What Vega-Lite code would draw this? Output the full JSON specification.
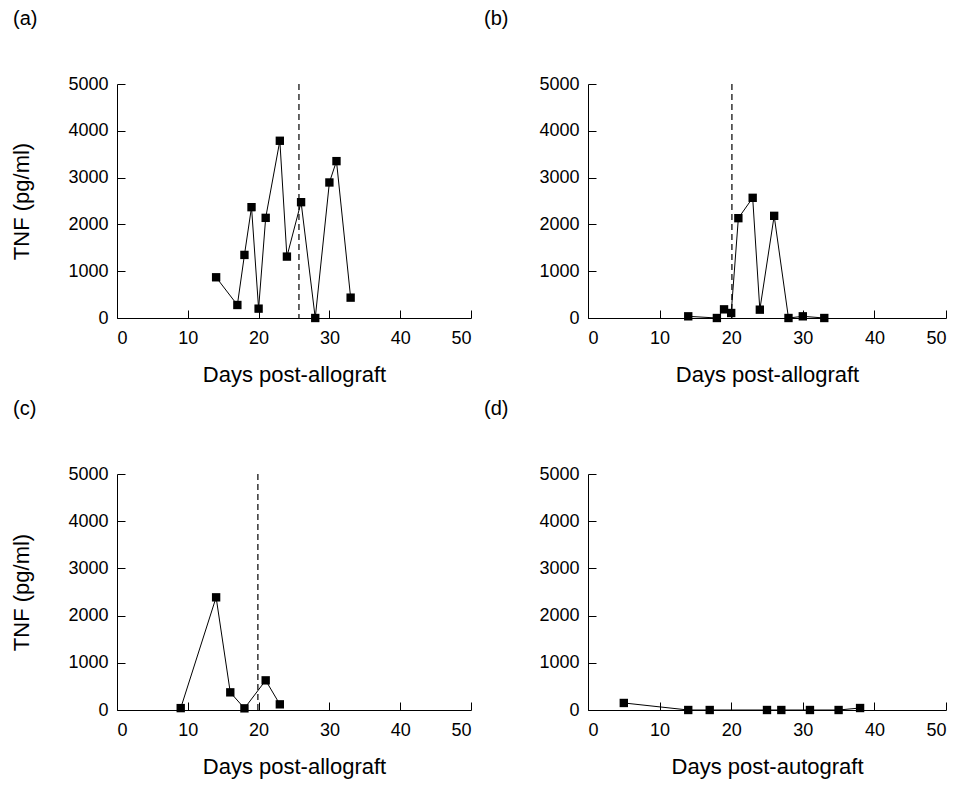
{
  "$schema": "https://vega.github.io/schema/vega-lite/v6.json",
  "background": "white",
  "padding": {"left": 10, "top": 9, "right": 5, "bottom": 5},
  "datasets": {
    "a": [{"day":14,"tnf":870},{"day":17,"tnf":278},{"day":18,"tnf":1348},{"day":19,"tnf":2368},{"day":20,"tnf":200},{"day":21,"tnf":2140},{"day":23,"tnf":3787},{"day":24,"tnf":1312},{"day":26,"tnf":2475},{"day":28,"tnf":0},{"day":30,"tnf":2896},{"day":31,"tnf":3352},{"day":33,"tnf":435}],
    "b": [{"day":14,"tnf":36},{"day":18,"tnf":0},{"day":19,"tnf":185},{"day":20,"tnf":107},{"day":21,"tnf":2133},{"day":23,"tnf":2568},{"day":24,"tnf":178},{"day":26,"tnf":2183},{"day":28,"tnf":0},{"day":30,"tnf":36},{"day":33,"tnf":0}],
    "c": [{"day":9,"tnf":40},{"day":14,"tnf":2387},{"day":16,"tnf":374},{"day":18,"tnf":35},{"day":21,"tnf":628},{"day":23,"tnf":120}],
    "d": [{"day":5,"tnf":149},{"day":14,"tnf":0},{"day":17,"tnf":0},{"day":25,"tnf":0},{"day":27,"tnf":0},{"day":31,"tnf":0},{"day":35,"tnf":0},{"day":38,"tnf":42}],
    "rejection": [{"panel":"a","day":25.7},{"panel":"b","day":20.1},{"panel":"c","day":19.9}]
  },
  "columns": 2,
  "spacing": {"row": 156, "column": 117},
  "bounds": "flush",
  "config": {
    "font": "Liberation Sans",
    "view": {"stroke": null},
    "axis": {
      "grid": false,
      "domainColor": "black",
      "domainWidth": 1,
      "tickColor": "black",
      "tickWidth": 1,
      "tickSize": -8,
      "labelColor": "black",
      "labelFontSize": 18,
      "labelFont": "Liberation Sans",
      "titleColor": "black",
      "titleFontSize": 22,
      "titleFontWeight": "normal",
      "titleFont": "Liberation Sans",
      "format": "d"
    },
    "axisX": {"labelPadding": 19, "titlePadding": 17},
    "axisY": {"labelPadding": 17, "titlePadding": 34},
    "title": {"fontSize": 20, "fontWeight": "normal", "font": "Liberation Sans", "color": "black", "anchor": "start", "frame": "group", "offset": 46, "dx": -104}
  },
  "concat": [
    {
      "title": "(a)",
      "width": 354, "height": 234,
      "layer": [
        {"data": {"name": "rejection"}, "transform": [{"filter": "datum.panel === 'a'"}], "mark": {"type": "rule", "strokeDash": [6, 4], "color": "black", "strokeWidth": 1.2}, "encoding": {"x": {"field": "day", "type": "quantitative", "scale": {"domain": [0, 50]}}}},
        {"data": {"name": "a"}, "mark": {"type": "line", "color": "black", "strokeWidth": 1}, "encoding": {
          "x": {"field": "day", "type": "quantitative", "scale": {"domain": [0, 50], "nice": false}, "axis": {"values": [0,10,20,30,40,50], "title": "Days post-allograft"}},
          "y": {"field": "tnf", "type": "quantitative", "scale": {"domain": [0, 5000], "nice": false}, "axis": {"values": [0,1000,2000,3000,4000,5000], "title": "TNF (pg/ml)"}}}},
        {"data": {"name": "a"}, "mark": {"type": "point", "shape": "square", "filled": true, "size": 70, "color": "black", "opacity": 1}, "encoding": {
          "x": {"field": "day", "type": "quantitative"},
          "y": {"field": "tnf", "type": "quantitative"}}}
      ]
    },
    {
      "title": "(b)",
      "width": 358, "height": 234,
      "layer": [
        {"data": {"name": "rejection"}, "transform": [{"filter": "datum.panel === 'b'"}], "mark": {"type": "rule", "strokeDash": [6, 4], "color": "black", "strokeWidth": 1.2}, "encoding": {"x": {"field": "day", "type": "quantitative", "scale": {"domain": [0, 50]}}}},
        {"data": {"name": "b"}, "mark": {"type": "line", "color": "black", "strokeWidth": 1}, "encoding": {
          "x": {"field": "day", "type": "quantitative", "scale": {"domain": [0, 50], "nice": false}, "axis": {"values": [0,10,20,30,40,50], "title": "Days post-allograft"}},
          "y": {"field": "tnf", "type": "quantitative", "scale": {"domain": [0, 5000], "nice": false}, "axis": {"values": [0,1000,2000,3000,4000,5000], "title": null}}}},
        {"data": {"name": "b"}, "mark": {"type": "point", "shape": "square", "filled": true, "size": 70, "color": "black", "opacity": 1}, "encoding": {
          "x": {"field": "day", "type": "quantitative"},
          "y": {"field": "tnf", "type": "quantitative"}}}
      ]
    },
    {
      "title": "(c)",
      "width": 354, "height": 236,
      "layer": [
        {"data": {"name": "rejection"}, "transform": [{"filter": "datum.panel === 'c'"}], "mark": {"type": "rule", "strokeDash": [6, 4], "color": "black", "strokeWidth": 1.2}, "encoding": {"x": {"field": "day", "type": "quantitative", "scale": {"domain": [0, 50]}}}},
        {"data": {"name": "c"}, "mark": {"type": "line", "color": "black", "strokeWidth": 1}, "encoding": {
          "x": {"field": "day", "type": "quantitative", "scale": {"domain": [0, 50], "nice": false}, "axis": {"values": [0,10,20,30,40,50], "title": "Days post-allograft"}},
          "y": {"field": "tnf", "type": "quantitative", "scale": {"domain": [0, 5000], "nice": false}, "axis": {"values": [0,1000,2000,3000,4000,5000], "title": "TNF (pg/ml)"}}}},
        {"data": {"name": "c"}, "mark": {"type": "point", "shape": "square", "filled": true, "size": 70, "color": "black", "opacity": 1}, "encoding": {
          "x": {"field": "day", "type": "quantitative"},
          "y": {"field": "tnf", "type": "quantitative"}}}
      ]
    },
    {
      "title": "(d)",
      "width": 358, "height": 236,
      "layer": [
        {"data": {"name": "d"}, "mark": {"type": "line", "color": "black", "strokeWidth": 1}, "encoding": {
          "x": {"field": "day", "type": "quantitative", "scale": {"domain": [0, 50], "nice": false}, "axis": {"values": [0,10,20,30,40,50], "title": "Days post-autograft"}},
          "y": {"field": "tnf", "type": "quantitative", "scale": {"domain": [0, 5000], "nice": false}, "axis": {"values": [0,1000,2000,3000,4000,5000], "title": null}}}},
        {"data": {"name": "d"}, "mark": {"type": "point", "shape": "square", "filled": true, "size": 70, "color": "black", "opacity": 1}, "encoding": {
          "x": {"field": "day", "type": "quantitative"},
          "y": {"field": "tnf", "type": "quantitative"}}}
      ]
    }
  ]
}
